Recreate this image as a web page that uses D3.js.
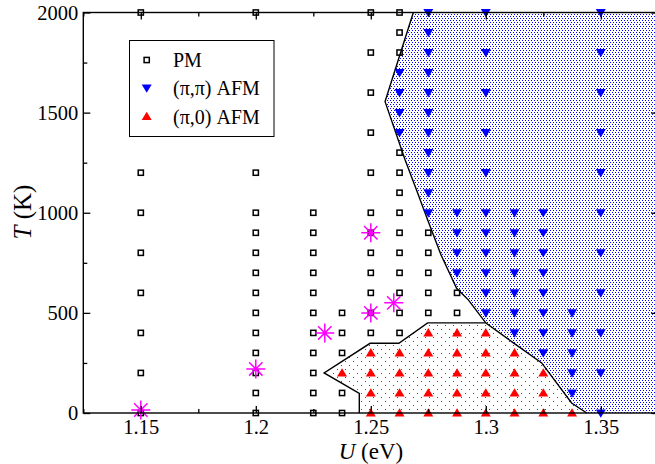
<!DOCTYPE html>
<html>
<head>
<meta charset="utf-8">
<script src="https://cdn.jsdelivr.net/npm/d3@7"></script>
<style>
  html, body { margin: 0; padding: 0; background: #fff; }
  svg { display: block; }
  text { font-family: "Liberation Serif", "DejaVu Serif", serif; fill: #000; }
</style>
</head>
<body>
<svg id="chart" width="655" height="464"></svg>
<script>
// Paramagnetic (PM) points: [U (eV), T (K)]
const pmPoints = [
  [1.15,2000],[1.15,1200],[1.15,1000],[1.15,800],[1.15,600],[1.15,400],[1.15,200],[1.15,0],
  [1.2,2000],[1.2,1200],[1.2,1000],[1.2,900],[1.2,800],[1.2,700],[1.2,600],[1.2,500],[1.2,400],[1.2,300],[1.2,200],[1.2,100],[1.2,0],
  [1.225,1000],[1.225,900],[1.225,800],[1.225,700],[1.225,600],[1.225,500],[1.225,400],[1.225,300],[1.225,200],[1.225,100],[1.225,0],
  [1.2375,500],[1.2375,400],[1.2375,300],[1.2375,100],[1.2375,0],
  [1.25,2000],[1.25,1800],[1.25,1600],[1.25,1400],[1.25,1200],[1.25,1000],[1.25,900],[1.25,800],[1.25,700],[1.25,600],[1.25,500],[1.25,400],
  [1.2625,2000],[1.2625,1900],[1.2625,1800],[1.2625,1300],[1.2625,1200],[1.2625,1100],[1.2625,1000],[1.2625,900],[1.2625,800],[1.2625,700],[1.2625,600],[1.2625,500],[1.2625,400],
  [1.275,900],[1.275,800],[1.275,700],[1.275,600],[1.275,500],
  [1.2875,600],[1.2875,500]
];

// (pi,pi) antiferromagnetic points
const afmPiPiPoints = [
  [1.2625,1700],[1.2625,1600],[1.2625,1500],[1.2625,1400],
  [1.275,2000],[1.275,1900],[1.275,1800],[1.275,1700],[1.275,1600],[1.275,1500],[1.275,1400],[1.275,1300],[1.275,1200],[1.275,1100],[1.275,1000],
  [1.2875,1000],[1.2875,900],[1.2875,800],[1.2875,700],
  [1.3,2000],[1.3,1800],[1.3,1600],[1.3,1400],[1.3,1200],[1.3,1000],[1.3,900],[1.3,800],[1.3,700],[1.3,600],[1.3,500],
  [1.3125,1000],[1.3125,900],[1.3125,800],[1.3125,700],[1.3125,600],[1.3125,500],[1.3125,400],
  [1.325,1000],[1.325,900],[1.325,800],[1.325,700],[1.325,600],[1.325,500],[1.325,400],[1.325,300],
  [1.3375,500],[1.3375,400],[1.3375,300],[1.3375,200],[1.3375,100],
  [1.35,2000],[1.35,1800],[1.35,1600],[1.35,1400],[1.35,1200],[1.35,1000],[1.35,800],[1.35,600],[1.35,400],[1.35,200],[1.35,0]
];

// (pi,0) antiferromagnetic points
const afmPi0Points = [
  [1.2375,200],
  [1.25,300],[1.25,200],[1.25,100],[1.25,0],
  [1.2625,300],[1.2625,200],[1.2625,100],[1.2625,0],
  [1.275,400],[1.275,300],[1.275,200],[1.275,100],[1.275,0],
  [1.2875,400],[1.2875,300],[1.2875,200],[1.2875,100],[1.2875,0],
  [1.3,400],[1.3,300],[1.3,200],[1.3,100],[1.3,0],
  [1.3125,300],[1.3125,200],[1.3125,100],[1.3125,0],
  [1.325,200],[1.325,100],[1.325,0],
  [1.3375,0]
];

// Transition points from other calculations
const transitionPoints = [
  [1.15,15],[1.2,220],[1.23,400],[1.25,500],[1.26,550],[1.25,900]
];

// Phase boundary of the (pi,pi) region, top to bottom
const piPiBoundary = [
  [1.2685,2000],[1.2562,1555],[1.2649,1265],[1.2700,1110],[1.2747,965],
  [1.2805,790],[1.2873,623],[1.2924,565],[1.3,450]
];
// Phase boundary of the (pi,0) pocket, bottom-left around to bottom-right
const pi0Boundary = [
  [1.245,0],[1.245,98],[1.2297,200],[1.2497,348],[1.2622,348],[1.2747,450],
  [1.3,450],[1.312,350],[1.3243,250],[1.3373,50],[1.3439,0]
];

const uDomain = [1.125, 1.375];
const tDomain = [0, 2000];
const uTicks = [1.15, 1.2, 1.25, 1.3, 1.35];
const uTickLabels = ["1.15", "1.2", "1.25", "1.3", "1.35"];
const uMinorTicks = [1.125, 1.175, 1.225, 1.275, 1.325, 1.375];
const tTicks = [0, 500, 1000, 1500, 2000];
const tMinorTicks = [250, 750, 1250, 1750];
const legendLabels = ["PM", "(\u03c0,\u03c0) AFM", "(\u03c0,0) AFM"];

const svg = d3.select("#chart");
const x = d3.scaleLinear().domain(uDomain).range([83.3, 658.3]);
const y = d3.scaleLinear().domain(tDomain).range([413, 12.5]);
const [x0, x1] = x.range();
const [y0, y1] = y.range();

// Dot fill patterns for the two ordered phases
const defs = svg.append("defs");
const blueP = defs.append("pattern").attr("id", "dotsBlue")
  .attr("patternUnits", "userSpaceOnUse").attr("width", 6).attr("height", 4);
[[0,0],[3,0],[1,2],[4,2]].forEach(([px, py]) =>
  blueP.append("rect").attr("x", px).attr("y", py).attr("width", 1).attr("height", 1).attr("fill", "#0000ee"));
const redP = defs.append("pattern").attr("id", "dotsRed")
  .attr("patternUnits", "userSpaceOnUse").attr("width", 8).attr("height", 8);
[[1,1],[5,5]].forEach(([px, py]) =>
  redP.append("rect").attr("x", px).attr("y", py).attr("width", 1).attr("height", 1).attr("fill", "#ff0000"));

const line = d3.line().x(d => x(d[0])).y(d => y(d[1]));

// (pi,pi) region: left boundary, then along the (pi,0) pocket, out to the right edge
const piPiRegion = piPiBoundary
  .concat(pi0Boundary.slice(pi0Boundary.findIndex(p => p[0] === 1.3 && p[1] === 450) + 1))
  .concat([[uDomain[1], 0], [uDomain[1], 2000]]);
svg.append("path").attr("d", line(piPiRegion) + "Z")
  .attr("fill", "url(#dotsBlue)").attr("stroke", "none");
svg.append("path").attr("d", line(pi0Boundary) + "Z")
  .attr("fill", "url(#dotsRed)").attr("stroke", "none");

svg.append("path").attr("d", line(piPiBoundary))
  .attr("fill", "none").attr("stroke", "#000").attr("stroke-width", 1.4);
svg.append("path").attr("d", line(pi0Boundary))
  .attr("fill", "none").attr("stroke", "#000").attr("stroke-width", 1.4);

// Markers
const sq = 5.2;
const triDown = "M-5,-3.6L5,-3.6L0,4.8Z";
const triUp = "M-5,3.6L5,3.6L0,-4.8Z";

const gMarks = svg.append("g");
gMarks.selectAll("rect.pm").data(pmPoints).join("rect").attr("class", "pm")
  .attr("x", d => x(d[0]) - sq / 2).attr("y", d => y(d[1]) - sq / 2)
  .attr("width", sq).attr("height", sq)
  .attr("fill", "none").attr("stroke", "#000").attr("stroke-width", 1.5);
gMarks.selectAll("path.pipi").data(afmPiPiPoints).join("path").attr("class", "pipi")
  .attr("d", triDown).attr("transform", d => `translate(${x(d[0])},${y(d[1])})`)
  .attr("fill", "#0000ff");
gMarks.selectAll("path.pi0").data(afmPi0Points).join("path").attr("class", "pi0")
  .attr("d", triUp).attr("transform", d => `translate(${x(d[0])},${y(d[1])})`)
  .attr("fill", "#ff0000");

// Asterisk markers
const r = 9.5, rd = 6.7;
const starPath = `M0,${-r}L0,${r}M${-r},0L${r},0M${-rd},${-rd}L${rd},${rd}M${-rd},${rd}L${rd},${-rd}`;
gMarks.selectAll("path.star").data(transitionPoints).join("path").attr("class", "star")
  .attr("d", starPath).attr("transform", d => `translate(${x(d[0])},${y(d[1])})`)
  .attr("fill", "none").attr("stroke", "#ff00ff").attr("stroke-width", 1.5);

// Axes with inward ticks on all four sides
function styleAxis(g) {
  g.selectAll(".domain").remove();
  g.selectAll(".tick line").attr("stroke", "#000").attr("stroke-width", 1.3);
  g.selectAll(".tick text").style("font-family", '"Liberation Serif", serif').style("font-size", "20.5px").attr("fill", "#000");
}
const gxB = svg.append("g").attr("transform", `translate(0,${y0})`)
  .call(d3.axisBottom(x).tickValues(uTicks).tickFormat((d, i) => uTickLabels[i]).tickSize(-7).tickPadding(6));
styleAxis(gxB);
const gxBm = svg.append("g").attr("transform", `translate(0,${y0})`)
  .call(d3.axisBottom(x).tickValues(uMinorTicks).tickFormat("").tickSize(-4));
styleAxis(gxBm);
const gxT = svg.append("g").attr("transform", `translate(0,${y1})`)
  .call(d3.axisTop(x).tickValues(uTicks).tickFormat("").tickSize(-7));
styleAxis(gxT);
const gxTm = svg.append("g").attr("transform", `translate(0,${y1})`)
  .call(d3.axisTop(x).tickValues(uMinorTicks).tickFormat("").tickSize(-4));
styleAxis(gxTm);
const gyL = svg.append("g").attr("transform", `translate(${x0},0)`)
  .call(d3.axisLeft(y).tickValues(tTicks).tickFormat(d3.format("d")).tickSize(-7).tickPadding(5));
styleAxis(gyL);
const gyLm = svg.append("g").attr("transform", `translate(${x0},0)`)
  .call(d3.axisLeft(y).tickValues(tMinorTicks).tickFormat("").tickSize(-4));
styleAxis(gyLm);
const gyR = svg.append("g").attr("transform", `translate(${x1},0)`)
  .call(d3.axisRight(y).tickValues(tTicks).tickFormat("").tickSize(-7));
styleAxis(gyR);
const gyRm = svg.append("g").attr("transform", `translate(${x1},0)`)
  .call(d3.axisRight(y).tickValues(tMinorTicks).tickFormat("").tickSize(-4));
styleAxis(gyRm);

svg.append("rect").attr("x", x0).attr("y", y1).attr("width", x1 - x0).attr("height", y0 - y1)
  .attr("fill", "none").attr("stroke", "#000").attr("stroke-width", 1.4);

// Axis titles
const xt = svg.append("text").attr("x", 371).attr("y", 458.5).attr("text-anchor", "middle")
  .style("font-size", "23px");
xt.append("tspan").style("font-style", "italic").text("U");
xt.append("tspan").text(" (eV)");
const yt = svg.append("text").attr("transform", "translate(31,212) rotate(-90)")
  .attr("text-anchor", "middle").style("font-size", "25px");
yt.append("tspan").style("font-style", "italic").text("T");
yt.append("tspan").text(" (K)");

// Legend
const lg = svg.append("g");
lg.append("rect").attr("x", 129.5).attr("y", 40.5).attr("width", 144.5).attr("height", 96)
  .attr("fill", "#fff").attr("stroke", "#000").attr("stroke-width", 1);
const rowsY = [60, 88, 116.5];
const mx = 146.7;
lg.append("rect").attr("x", mx - sq / 2).attr("y", rowsY[0] - sq / 2).attr("width", sq).attr("height", sq)
  .attr("fill", "none").attr("stroke", "#000").attr("stroke-width", 1.5);
lg.append("path").attr("d", triDown).attr("transform", `translate(${mx},${rowsY[1]})`).attr("fill", "#0000ff");
lg.append("path").attr("d", triUp).attr("transform", `translate(${mx},${rowsY[2]})`).attr("fill", "#ff0000");
lg.selectAll("text.lab").data(legendLabels).join("text").attr("class", "lab")
  .attr("x", 173).attr("y", (d, i) => rowsY[i]).attr("dy", "0.35em")
  .style("font-size", "20px").text(d => d);
</script>
</body>
</html>
